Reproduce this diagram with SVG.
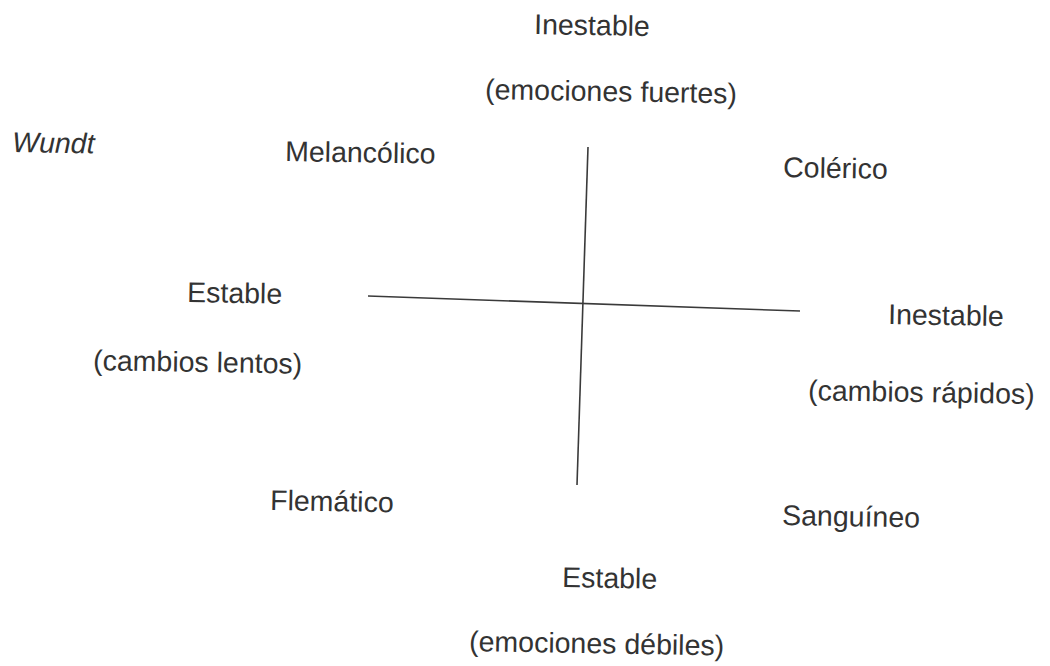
<svg xmlns="http://www.w3.org/2000/svg" width="1050" height="666" viewBox="0 0 1050 666">
<style>
text{font-family:"Liberation Sans",Arial,sans-serif;font-size:28.5px;fill:#333}
.it{font-style:italic}
.ax{stroke:#3a3a3a;stroke-width:1.6;fill:none}
</style>
<rect width="1050" height="666" fill="#fff"/>
<g id="connectors">
<line class="ax" x1="368" y1="296" x2="800" y2="311"/>
<line class="ax" x1="588" y1="147" x2="577" y2="485"/>
</g>
<g id="title"><text class="it" x="12" y="152" transform="rotate(1 12 152)">Wundt</text></g>
<g id="top"><text x="534" y="34" transform="rotate(1 534 34)">Inestable</text>
<text x="485" y="99" transform="rotate(1 485 99)">(emociones fuertes)</text></g>
<g id="melancolico"><text x="285" y="161" transform="rotate(1 285 161)">Melancólico</text></g>
<g id="colerico"><text x="783" y="177" transform="rotate(1 783 177)">Colérico</text></g>
<g id="left"><text x="187" y="302" transform="rotate(1 187 302)">Estable</text>
<text x="93" y="370" transform="rotate(1 93 370)">(cambios lentos)</text></g>
<g id="right"><text x="888" y="324" transform="rotate(1 888 324)">Inestable</text>
<text x="808" y="400" transform="rotate(1 808 400)">(cambios rápidos)</text></g>
<g id="flematico"><text x="270" y="510" transform="rotate(1 270 510)">Flemático</text></g>
<g id="sanguineo"><text x="782" y="525" transform="rotate(1 782 525)">Sanguíneo</text></g>
<g id="bottom"><text x="562" y="587" transform="rotate(1 562 587)">Estable</text>
<text x="469" y="651" transform="rotate(1 469 651)">(emociones débiles)</text></g>
</svg>
